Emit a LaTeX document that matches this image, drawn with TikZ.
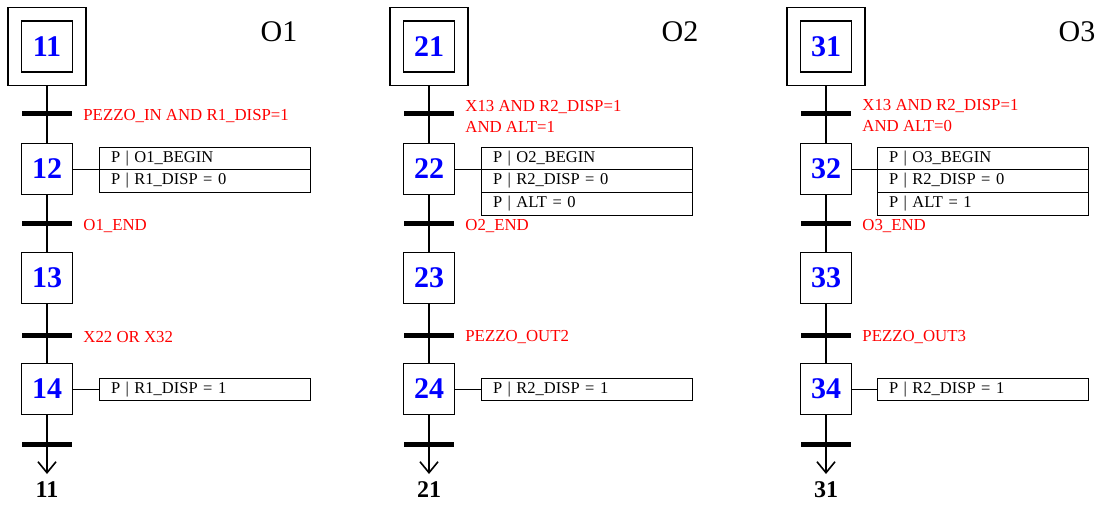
\documentclass[tikz,border=0pt]{standalone}
\usepackage{fontspec}
\setmainfont{Liberation Serif}
\usetikzlibrary{arrows.meta,positioning}

\tikzset{
  stepbox/.style={draw, line width=1.8pt, minimum size=51pt, inner sep=0pt,
    text=blue, font=\fontsize{30}{32}\selectfont\bfseries},
  initbox/.style={draw, line width=1.8pt, minimum size=78pt, inner sep=0pt},
  bar/.style={fill=black, minimum width=50pt, minimum height=5pt, inner sep=0pt},
  cond/.style={inner sep=0pt, text=red, align=left, yshift=-2pt,
    font=\fontsize{16.8}{21}\selectfont},
  act/.style={draw, line width=0.8pt, minimum height=22.7pt, text width=187pt,
    inner xsep=12pt, inner ysep=0pt, outer sep=0pt,
    font=\fontsize{16.5}{18}\selectfont},
  link/.style={line width=1.6pt},
  title/.style={font=\fontsize{30}{32}\selectfont},
  back/.style={font=\fontsize{24}{26}\selectfont\bfseries},
}

\begin{document}
\begin{tikzpicture}[x=1pt, y=-1pt]

    \useasboundingbox (0,0) rectangle (1100,505);

    % Column O1
    \node[initbox] (o11) at (47,46.5) {};
    \node[stepbox] (s11) at (47,46.5) {11};
    \node[stepbox] (s12) at (47,169) {12};
    \node[stepbox] (s13) at (47,278) {13};
    \node[stepbox] (s14) at (47,389) {14};
    \coordinate (r1) at (47,474);
    \node[back] (n1) at (47,490) {11};

    \draw[link] (o11) -- (s12);
    \draw[link] (s12) -- (s13);
    \draw[link] (s13) -- (s14);
    \draw[link, -{Straight Barb[length=11pt,width=18pt]}] (s14) -- (r1);

    \node[bar] (t11) at (47,114) {};
    \node[bar] (t12) at (47,224) {};
    \node[bar] (t13) at (47,335) {};
    \node[bar] (t14) at (47,444) {};

    \node[cond, right=11pt of t11] (c11) {PEZZO\_IN AND R1\_DISP=1};
    \node[cond, right=11pt of t12] (c12) {O1\_END};
    \node[cond, right=11pt of t13] (c13) {X22 OR X32};

    \node[act, anchor=north west] (a12) at (99,147) {P | O1\_BEGIN};
    \node[act, below=0pt of a12] (a12b) {P | R1\_DISP = 0};
    \node[act, anchor=north west] (a14) at (99,378) {P | R1\_DISP = 1};
    \draw[line width=0.9pt] (s12) -- (s12 -| a12.west);
    \draw[line width=0.9pt] (s14) -- (s14 -| a14.west);

    \node[title] (h1) at (279,32) {O1};

    % Column O2
    \node[initbox] (o21) at (429,46.5) {};
    \node[stepbox] (s21) at (429,46.5) {21};
    \node[stepbox] (s22) at (429,169) {22};
    \node[stepbox] (s23) at (429,278) {23};
    \node[stepbox] (s24) at (429,389) {24};
    \coordinate (r2) at (429,474);
    \node[back] (n2) at (429,490) {21};

    \draw[link] (o21) -- (s22);
    \draw[link] (s22) -- (s23);
    \draw[link] (s23) -- (s24);
    \draw[link, -{Straight Barb[length=11pt,width=18pt]}] (s24) -- (r2);

    \node[bar] (t21) at (429,114) {};
    \node[bar] (t22) at (429,224) {};
    \node[bar] (t23) at (429,335) {};
    \node[bar] (t24) at (429,444) {};

    \node[cond, right=11pt of t21] (c21) {X13 AND R2\_DISP=1\\AND ALT=1};
    \node[cond, right=11pt of t22] (c22) {O2\_END};
    \node[cond, right=11pt of t23] (c23) {PEZZO\_OUT2};

    \node[act, anchor=north west] (a22) at (481,147) {P | O2\_BEGIN};
    \node[act, below=0pt of a22] (a22b) {P | R2\_DISP = 0};
    \node[act, below=0pt of a22b] (a22c) {P | ALT = 0};
    \node[act, anchor=north west] (a24) at (481,378) {P | R2\_DISP = 1};
    \draw[line width=0.9pt] (s22) -- (s22 -| a22.west);
    \draw[line width=0.9pt] (s24) -- (s24 -| a24.west);

    \node[title] (h2) at (680,32) {O2};

    % Column O3
    \node[initbox] (o31) at (826,46.5) {};
    \node[stepbox] (s31) at (826,46.5) {31};
    \node[stepbox] (s32) at (826,169) {32};
    \node[stepbox] (s33) at (826,278) {33};
    \node[stepbox] (s34) at (826,389) {34};
    \coordinate (r3) at (826,474);
    \node[back] (n3) at (826,490) {31};

    \draw[link] (o31) -- (s32);
    \draw[link] (s32) -- (s33);
    \draw[link] (s33) -- (s34);
    \draw[link, -{Straight Barb[length=11pt,width=18pt]}] (s34) -- (r3);

    \node[bar] (t31) at (826,114) {};
    \node[bar] (t32) at (826,224) {};
    \node[bar] (t33) at (826,335) {};
    \node[bar] (t34) at (826,444) {};

    \node[cond, right=11pt of t31] (c31) {X13 AND R2\_DISP=1\\AND ALT=0};
    \node[cond, right=11pt of t32] (c32) {O3\_END};
    \node[cond, right=11pt of t33] (c33) {PEZZO\_OUT3};

    \node[act, anchor=north west] (a32) at (877,147) {P | O3\_BEGIN};
    \node[act, below=0pt of a32] (a32b) {P | R2\_DISP = 0};
    \node[act, below=0pt of a32b] (a32c) {P | ALT = 1};
    \node[act, anchor=north west] (a34) at (877,378) {P | R2\_DISP = 1};
    \draw[line width=0.9pt] (s32) -- (s32 -| a32.west);
    \draw[line width=0.9pt] (s34) -- (s34 -| a34.west);

    \node[title] (h3) at (1077,32) {O3};

\end{tikzpicture}
\end{document}
